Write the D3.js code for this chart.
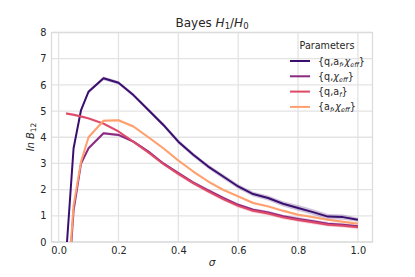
<!DOCTYPE html>
<html><head><meta charset="utf-8">
<script src="https://cdn.jsdelivr.net/npm/d3@7"></script>
<style>body{margin:0;background:#fff}svg{font-family:"DejaVu Sans",sans-serif}</style>
</head><body>
<svg id="c" width="415" height="277"></svg>
<script>
const sigma = [0.025,0.05,0.075,0.1,0.15,0.2,0.25,0.3,0.35,0.4,0.45,0.5,0.55,0.6,0.65,0.7,0.75,0.8,0.85,0.9,0.95,1.0];
const sQAfChi = [-0.5,3.58,5.04,5.74,6.25,6.08,5.61,5.04,4.47,3.83,3.33,2.88,2.5,2.12,1.83,1.68,1.46,1.3,1.14,0.97,0.95,0.85];
const sQChi   = [-2.9,1.2,3.0,3.58,4.15,4.09,3.83,3.45,3.0,2.63,2.27,1.97,1.68,1.42,1.23,1.13,0.98,0.88,0.79,0.7,0.66,0.6];
const sQAf    = [4.91,4.86,4.79,4.72,4.52,4.22,3.83,3.42,2.98,2.6,2.25,1.93,1.64,1.38,1.19,1.09,0.94,0.84,0.75,0.66,0.62,0.56];
const sAfChi  = [-2.6,1.4,3.07,4.0,4.63,4.65,4.41,4.0,3.58,3.11,2.69,2.31,1.99,1.74,1.49,1.36,1.19,1.04,0.95,0.85,0.77,0.7];
const errQAfChi = [0.1,0.1,0.08,0.06,0.07,0.07,0.07,0.07,0.08,0.08,0.08,0.08,0.09,0.09,0.09,0.1,0.1,0.11,0.11,0.1,0.1,0.08];
const errQChi   = [0.1,0.1,0.06,0.05,0.05,0.05,0.05,0.05,0.05,0.06,0.06,0.06,0.06,0.06,0.06,0.06,0.06,0.07,0.07,0.06,0.06,0.05];
const errQAf    = [0.05,0.05,0.05,0.05,0.05,0.05,0.06,0.06,0.06,0.07,0.07,0.07,0.07,0.07,0.07,0.07,0.07,0.07,0.07,0.07,0.07,0.06];
const errAfChi  = [0.1,0.1,0.06,0.05,0.05,0.05,0.05,0.05,0.05,0.05,0.05,0.05,0.05,0.05,0.05,0.05,0.05,0.05,0.05,0.05,0.05,0.05];
const xTicks = [0.0,0.2,0.4,0.6,0.8,1.0];
const yTicks = [0,1,2,3,4,5,6,7,8];
const colors = ["#3b0f70","#8c2981","#de4968","#fe9f6d"];

const series = [
  {vals:sQAfChi, err:errQAfChi, label:[["{q,a"],["f","sub"],[",χ","it"],["eff","sub"],["}"]]},
  {vals:sQChi, err:errQChi, label:[["{q,"],["χ","it"],["eff","sub"],["}"]]},
  {vals:sQAf, err:errQAf, label:[["{q,a"],["f","sub"],["}"]]},
  {vals:sAfChi, err:errAfChi, label:[["{a"],["f","sub"],[",χ","it"],["eff","sub"],["}"]]}
];

const svg = d3.select("#c");
const L=51.5, R=372.5, T=32.5, B=242;
const x = d3.scaleLinear().domain([-0.02375,1.04875]).range([L,R]);
const y = d3.scaleLinear().domain([0,8]).range([B,T]);
const grid = "#e3e3e3";

const g = svg.append("g");
g.selectAll(".gx").data(xTicks).enter().append("line")
  .attr("x1",d=>x(d)).attr("x2",d=>x(d)).attr("y1",T).attr("y2",B)
  .attr("stroke",grid).attr("stroke-width",1.3);
g.selectAll(".gy").data(yTicks).enter().append("line")
  .attr("x1",L).attr("x2",R).attr("y1",d=>y(d)).attr("y2",d=>y(d))
  .attr("stroke",grid).attr("stroke-width",1.3);
g.append("rect").attr("x",L).attr("y",T).attr("width",R-L).attr("height",B-T)
  .attr("fill","none").attr("stroke","#dcdcdc").attr("stroke-width",1.3);

svg.append("defs").append("clipPath").attr("id","clip")
  .append("rect").attr("x",L).attr("y",T).attr("width",R-L).attr("height",B-T);
const plot = svg.append("g").attr("clip-path","url(#clip)");

const line = d3.line().x(d=>x(d[0])).y(d=>y(d[1]));
const area = d3.area().x(d=>x(d[0])).y0(d=>y(d[1]-d[2])).y1(d=>y(d[1]+d[2]));
series.forEach((s,i)=>{
  const pts = sigma.map((v,j)=>[v,s.vals[j],s.err[j]]);
  plot.append("path").attr("d",area(pts)).attr("fill",colors[i]).attr("opacity",0.25);
});
series.forEach((s,i)=>{
  const pts = sigma.map((v,j)=>[v,s.vals[j]]);
  plot.append("path").attr("d",line(pts)).attr("fill","none")
    .attr("stroke",colors[i]).attr("stroke-width",2).attr("stroke-linejoin","round");
});

// axes labels
const xa = svg.append("g").attr("transform",`translate(0,${B})`)
  .call(d3.axisBottom(x).tickValues(xTicks).tickFormat(d3.format(".1f")).tickSize(0).tickPadding(5));
xa.select(".domain").remove();
xa.selectAll("text").attr("font-size",9.8).attr("fill","#262626").attr("font-family","DejaVu Sans");
const ya = svg.append("g").attr("transform",`translate(${L},0)`)
  .call(d3.axisLeft(y).tickValues(yTicks).tickFormat(d3.format("d")).tickSize(0).tickPadding(5));
ya.select(".domain").remove();
ya.selectAll("text").attr("font-size",9.8).attr("fill","#262626").attr("font-family","DejaVu Sans");

// title
const t = svg.append("text").attr("x",212).attr("y",27).attr("text-anchor","middle")
  .attr("font-size",12).attr("fill","#262626");
t.append("tspan").text("Bayes  ");
t.append("tspan").attr("font-style","italic").text("H");
t.append("tspan").attr("font-size",8.5).attr("dy",2).text("1");
t.append("tspan").attr("dy",-2).text("/");
t.append("tspan").attr("font-style","italic").text("H");
t.append("tspan").attr("font-size",8.5).attr("dy",2).text("0");

// x label
svg.append("text").attr("x",212).attr("y",266).attr("text-anchor","middle")
  .attr("font-size",10.5).attr("font-style","italic").attr("fill","#262626").text("σ");
// y label
const yl = svg.append("text").attr("transform","translate(34,137) rotate(-90)")
  .attr("text-anchor","middle").attr("font-size",10).attr("fill","#262626");
yl.append("tspan").attr("font-style","italic").text("ln B");
yl.append("tspan").attr("font-size",7.5).attr("dy",2).text("12");

// legend
svg.append("text").attr("x",327).attr("y",49).attr("text-anchor","middle")
  .attr("font-size",9.6).attr("fill","#262626").text("Parameters");
series.forEach((s,i)=>{
  const yy = 61 + i*15.3;
  svg.append("line").attr("x1",290).attr("x2",310).attr("y1",yy).attr("y2",yy)
    .attr("stroke",colors[i]).attr("stroke-width",2);
  const tx = svg.append("text").attr("x",318).attr("y",yy+3.5).attr("font-size",9.6).attr("fill","#262626");
  let shift = 0;
  s.label.forEach(([txt,kind])=>{
    const sp = tx.append("tspan").text(txt);
    if(kind==="sub"){ sp.attr("font-size",6.5).attr("font-style","italic").attr("dy",2-shift); shift=2; }
    else { sp.attr("dy",-shift); shift=0; if(kind==="it") sp.attr("font-style","italic"); }
  });
});
</script>
</body></html>
